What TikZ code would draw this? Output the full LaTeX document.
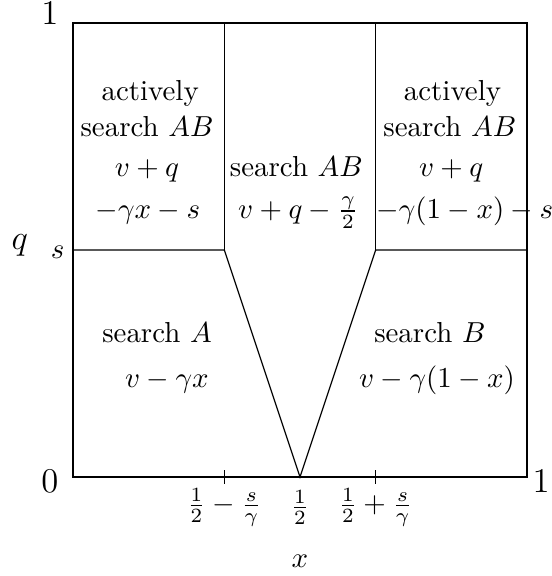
\documentclass[tikz,border=0pt]{standalone}
\usepackage{tikz}

\tikzset{
  rim/.style={line width=0.75pt},
  divide/.style={line width=0.4pt},
  cell/.style={anchor=base, inner sep=0pt},
  corner/.style={font=\large, inner sep=0pt}
}

\begin{document}
\begin{tikzpicture}[x=5.52cm, y=5.52cm]
  \useasboundingbox (-0.1608,-0.2181) rectangle (1.0551,1.0507);
  % ===== Regiones =====
  \draw[divide] (0,0.5) -- (1/3,0.5) -- (0.5,0) -- (2/3,0.5) -- (1,0.5);
  \draw[divide] (1/3,0.5) -- (1/3,1);
  \draw[divide] (2/3,0.5) -- (2/3,1);
  \draw[divide] (1/3,0.015) -- (1/3,-0.015);
  \draw[divide] (2/3,0.015) -- (2/3,-0.015);
  \draw[rim] (0,0) rectangle (1,1);

  % ===== Ejes =====
  \node[corner] (ytop) at (-0.051,1.022) {$1$};
  \node[corner] (orig) at (-0.051,-0.010) {$0$};
  \node[corner] (xend) at (1.031,-0.009) {$1$};
  \node[cell, font=\large] (qlab) at (-0.117,0.500) {$q$};
  \node[cell] (slab) at (-0.034,0.482) {$s$};
  \node[inner sep=0pt] (tkl) at (1/3,-0.067) {$\frac{1}{2}-\frac{s}{\gamma}$};
  \node[inner sep=0pt] (tkm) at (0.5,-0.067) {$\frac{1}{2}$};
  \node[inner sep=0pt] (tkr) at (2/3,-0.067) {$\frac{1}{2}+\frac{s}{\gamma}$};
  \node[cell] (xlab) at (0.5,-0.200) {$x$};

  % ===== Arriba izquierda =====
  \node[cell] (ul1) at (0.170,0.830) {actively};
  \node[cell] (ul2) at (0.163,0.749) {search $AB$};
  \node[cell] (ul3) at (0.163,0.663) {$v+q$};
  \node[cell] (ul4) at (0.165,0.570) {$-\gamma x-s$};
  % ===== Centro =====
  \node[cell] (mid1) at (0.492,0.663) {search $AB$};
  \node[cell] (mid2) at (0.496,0.570) {$v+q-\frac{\gamma}{2}$};
  % ===== Arriba derecha =====
  \node[cell] (ur1) at (0.836,0.830) {actively};
  \node[cell] (ur2) at (0.830,0.749) {search $AB$};
  \node[cell] (ur3) at (0.833,0.663) {$v+q$};
  \node[cell] (ur4) at (0.863,0.570) {$-\gamma(1-x)-s$};
  % ===== Abajo =====
  \node[cell] (ll1) at (0.185,0.297) {search $A$};
  \node[cell] (ll2) at (0.207,0.198) {$v-\gamma x$};
  \node[cell] (lr1) at (0.786,0.297) {search $B$};
  \node[cell] (lr2) at (0.802,0.198) {$v-\gamma(1-x)$};
\end{tikzpicture}
\end{document}
